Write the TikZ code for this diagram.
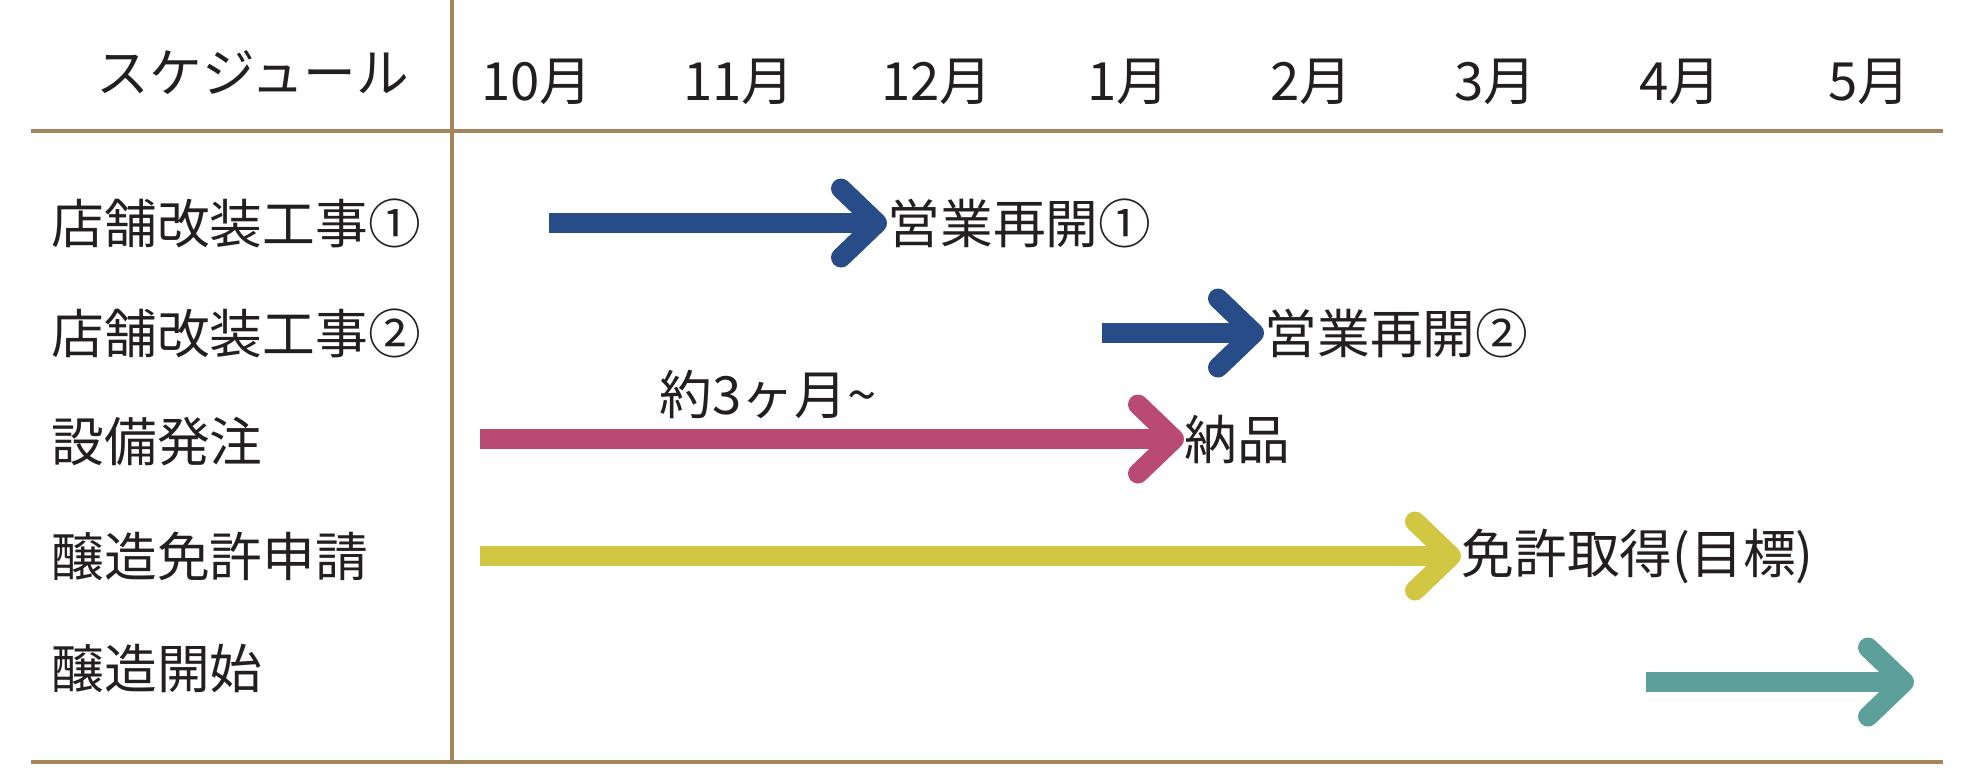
\documentclass[tikz,border=0pt]{standalone}
\usepackage{fontspec}
\setmainfont{Noto Sans CJK JP}
\usetikzlibrary{positioning,arrows.meta}
\definecolor{rulebrown}{HTML}{A4845C}
\definecolor{navy}{HTML}{274C87}
\definecolor{rose}{HTML}{B84A74}
\definecolor{mustard}{HTML}{D2C743}
\definecolor{seagreen}{HTML}{5DA09B}
\definecolor{ink}{HTML}{231F20}
\tikzset{font=\fontsize{15}{18}\selectfont}
\tikzset{
	rule/.style={rulebrown, line width=0.04cm},
	bar/.style={line width=0.2cm, -{Straight Barb[length=0.36cm, width=0.69cm, round]}},
}

\begin{document}
\begin{tikzpicture}
	\useasboundingbox (0,0) rectangle (19.69,-7.81);
	\begin{scope}
		\tikzstyle{every node}=[inner sep=0pt, text=ink]
		% header
		\node (sched) at (2.53,-0.73) {スケジュール};
		\foreach \x/\m [count=\i] in {5.37/10,7.39/11,9.37/12,11.28/1,13.11/2,14.95/3,16.80/4,18.69/5}
			\node (m\i) at (\x,-0.82) {\m 月};

		% frame
		\coordinate (tl) at (0.31,-1.31);
		\coordinate (tr) at (19.43,-1.31);
		\coordinate (bl) at (0.31,-7.62);
		\coordinate (br) at (19.43,-7.62);
		\coordinate (vt) at (4.52,0);
		\coordinate (vb) at (4.52,-7.62);
		\draw[rule] (tl) -- (tr);
		\draw[rule] (bl) -- (br);
		\draw[rule] (vt) -- (vb);

		% tasks
		\node[anchor=west] (shop1) at (0.51,-2.23) {店舗改装工事①};
		\node[anchor=west] (shop2) at (0.51,-3.33) {店舗改装工事②};
		\node[anchor=west] (order) at (0.51,-4.42) {設備発注};
		\node[anchor=west] (apply) at (0.51,-5.56) {醸造免許申請};
		\node[anchor=west] (brew) at (0.51,-6.68) {醸造開始};

		% milestones
		\node[anchor=west] (open1) at (8.87,-2.23) {営業再開①};
		\node[anchor=west] (open2) at (12.64,-3.33) {営業再開②};
		\node[anchor=west] (deliv) at (11.84,-4.39) {納品};
		\node[anchor=west] (lic) at (14.61,-5.56) {免許取得(目標)};
		\node (lead) at (7.68,-3.94) {約3ヶ月\textasciitilde};

		\coordinate (s1) at (5.49,-2.23);
		\coordinate (s2) at (11.02,-3.33);
		\coordinate (s3) at (4.80,-4.39);
		\coordinate (s4) at (4.80,-5.56);
		\coordinate (s5) at (16.46,-6.82);
		\coordinate (e5) at (19.14,-6.82);

		\draw[bar, navy] (s1) -- (open1.west);
		\draw[bar, navy] (s2) -- (open2.west);
		\draw[bar, rose] (s3) -- (deliv.west);
		\draw[bar, mustard] (s4) -- (lic.west);
		\draw[bar, seagreen] (s5) -- (e5);
	\end{scope}
\end{tikzpicture}
\end{document}
